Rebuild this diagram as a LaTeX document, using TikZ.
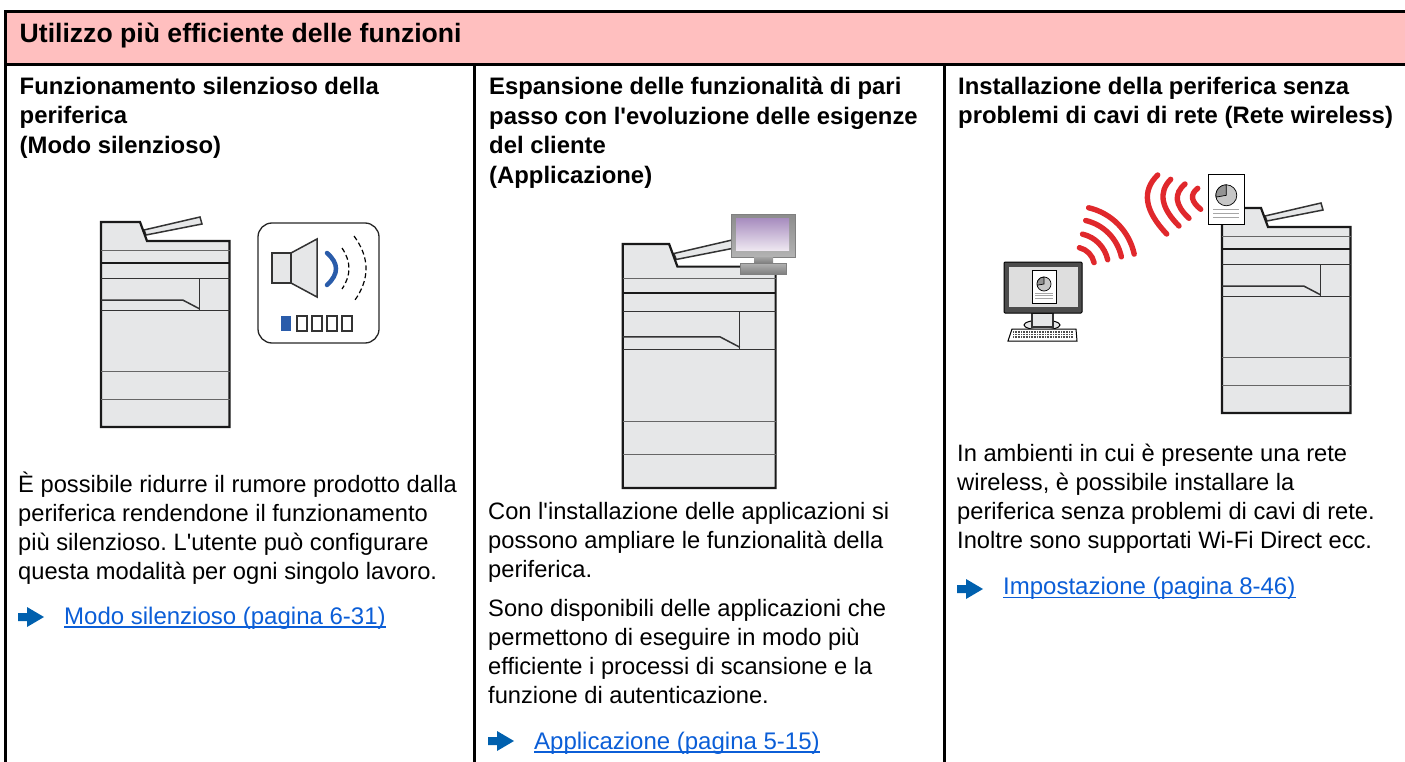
\documentclass[tikz,border=0pt]{standalone}
\usepackage{fontspec}
\setmainfont{Liberation Sans}
\definecolor{headpink}{HTML}{FFBFBF}
\definecolor{bodygray}{HTML}{E6E7E8}
\definecolor{linkblue}{HTML}{0B5ED7}
\definecolor{arrowblue}{HTML}{0060AE}
\definecolor{speakblue}{HTML}{2A5CAA}
\definecolor{wavered}{HTML}{E0282C}
\definecolor{screentop}{HTML}{A98FC0}
\definecolor{screenbot}{HTML}{EDE6F0}

% printer: left, top, scale
\newcommand{\printerbody}[3]{
\begin{scope}[shift={(#1,#2)},scale=#3]
\draw[thin line, fill=bodygray] (43,8) -- (99,-5) -- (101,2) -- (45,13) -- cycle;
\draw[thick line, fill=bodygray] (0,0) -- (39,0) -- (46,19) -- (128.5,19) -- (128.5,205) -- (0,205) -- cycle;
\draw[grey line] (0,28.7) -- (128.5,28.7);
\draw[thick line] (0,41) -- (128.5,41);
\draw[thin line] (0,56.7) -- (128.5,56.7);
\draw[thin line] (0,88.7) -- (128.5,88.7);
\draw[thin line] (98.3,56.7) -- (98.3,88.7);
\draw[thin line] (0,78) -- (81.7,78) -- (98.3,86.7);
\draw[grey line] (0,149) -- (128.5,149);
\draw[grey line] (0,177) -- (128.5,177);
\end{scope}
}
% blue arrow in front of a link: left, middle
\newcommand{\linkarrow}[2]{
\fill[arrowblue] (#1,#2-4) -- (#1+9,#2-4) -- (#1+9,#2-10) -- (#1+26,#2) -- (#1+9,#2+10) -- (#1+9,#2+4) -- (#1,#2+4) -- cycle;
}
% small page with a pie: centre of the pie, radius
\newcommand{\piechart}[3]{
\draw[line width=0.7pt, fill=gray!45] (#1,#2) circle (#3);
\draw[line width=0.7pt, fill=gray!85] (#1,#2) -- (#1,#2-#3) arc[start angle=-90,end angle=-190,radius=#3] -- cycle;
}

\begin{document}
\begin{tikzpicture}[x=1pt,y=-1pt]
\useasboundingbox (0,0) rectangle (1405,762);

% definitions
\tikzstyle{thick line} = [line width=2.2pt, draw=black!90]
\tikzstyle{thin line} = [line width=1.5pt, draw=black!80]
\tikzstyle{grey line} = [line width=1pt, draw=black!60]
\tikzstyle{frame} = [line width=3pt, draw=black]
\tikzstyle{titletext} = [anchor=base west, inner sep=0pt, font=\fontsize{26.6}{29}\selectfont\bfseries]
\tikzstyle{headtext} = [anchor=north west, inner sep=0pt, align=left, font=\frenchspacing\fontsize{23.85}{29.5}\selectfont\bfseries]
\tikzstyle{bodytext} = [anchor=north west, inner sep=0pt, align=left, font=\frenchspacing\fontsize{23.7}{29}\selectfont]
\tikzstyle{linktext} = [anchor=base west, inner sep=0pt, text=linkblue, font=\fontsize{24}{29}\selectfont]
\tikzstyle{link line} = [line width=1.4pt, draw=linkblue]
\tikzstyle{wave} = [line width=5.4pt, draw=wavered, line cap=round]

% table
\fill[headpink] (5.5,11.5) rectangle (1405,64.5);
\draw[frame] (5.5,762) -- (5.5,11.5) -- (1405,11.5);
\draw[frame] (5.5,64.5) -- (1405,64.5);
\draw[frame] (474,64.5) -- (474,762);
\draw[frame] (944,64.5) -- (944,762);

% texts
\node[titletext] (title) at (19.5,42.5) {Utilizzo più efficiente delle funzioni};

\node[headtext] (head1) at (19.5,77) {Funzionamento silenzioso della\\periferica\\(Modo silenzioso)};
\node[headtext] (head2) at (489,77) {Espansione delle funzionalità di pari\\passo con l\textquotesingle evoluzione delle esigenze\\del cliente\\(Applicazione)};
\node[headtext] (head3) at (958,77) {Installazione della periferica senza\\problemi di cavi di rete (Rete wireless)};

\node[bodytext] (body1) at (18,472) {È possibile ridurre il rumore prodotto dalla\\periferica rendendone il funzionamento\\più silenzioso. L\textquotesingle utente può configurare\\questa modalità per ogni singolo lavoro.};
\node[bodytext] (body2a) at (488,502.5) {Con l\textquotesingle installazione delle applicazioni si\\possono ampliare le funzionalità della\\periferica.};
\node[bodytext] (body2b) at (488,599.5) {Sono disponibili delle applicazioni che\\permettono di eseguire in modo più\\efficiente i processi di scansione e la\\funzione di autenticazione.};
\node[bodytext] (body3) at (957,444) {In ambienti in cui è presente una rete\\wireless, è possibile installare la\\periferica senza problemi di cavi di rete.\\Inoltre sono supportati Wi-Fi Direct ecc.};

\node[linktext] (link1) at (64,624) {Modo silenzioso (pagina 6-31)};
\node[linktext] (link2) at (534,749) {Applicazione (pagina 5-15)};
\node[linktext] (link3) at (1003,594.5) {Impostazione (pagina 8-46)};
\foreach \linkname in {link1,link2,link3}
  \draw[link line] ([yshift=-3pt]\linkname.base west) -- ([yshift=-3pt]\linkname.base east);
\linkarrow{18}{617}
\linkarrow{488}{741}
\linkarrow{957}{589}

% silent mode
\printerbody{101}{222}{1}
\draw[line width=1.3pt, draw=black!85, rounded corners=14pt] (258,223) rectangle (379,343);
\draw[thin line, fill=bodygray] (272,253) rectangle (291,283);
\draw[thin line, fill=bodygray] (291,253) -- (317,239) -- (317,297) -- (291,283) -- cycle;
\draw[line width=4.5pt, draw=speakblue, line cap=round] (327,253) .. controls (339,263.4) and (339,274) .. (327,285);
\draw[line width=1.2pt, dash pattern=on 5pt off 3pt] (342,248) .. controls (351.3,261.7) and (351.3,275.3) .. (342,289);
\draw[line width=1.2pt, dash pattern=on 5pt off 3pt] (354,236) .. controls (369.7,257.3) and (370,278.7) .. (355,300);
\fill[speakblue] (281,316) rectangle (291,331);
\foreach \squarex in {297,312,327,342}
  \draw[thin line] (\squarex,316) rectangle (\squarex+10,331);

% application
\printerbody{622.7}{244}{1.19}
\draw[line width=1pt, draw=black!50, top color=black!45, bottom color=black!30] (731,214.5) rectangle (795,257);
\fill[top color=black!35, bottom color=black!50] (754,257) rectangle (773,263);
\draw[line width=1pt, draw=black!50, top color=black!30, bottom color=black!50] (740,263) rectangle (786,274);
\shade[top color=screentop, bottom color=screenbot] (736,219) rectangle (789,250);

% wireless
\printerbody{1222}{208}{1}
\draw[line width=1.2pt, fill=white] (1208.7,174.3) rectangle (1244.3,224.3);
\piechart{1226.3}{195.3}{10.5}
\foreach \liney in {210,213.7,217.3}
  \draw[line width=1pt, draw=black!35] (1213,\liney) -- (1239,\liney);

\draw[line width=1pt, fill=bodygray] (1042,325) ellipse (18 and 5);
\draw[thin line, fill=bodygray] (1032,313) rectangle (1053,327);
\draw[line width=1pt, fill=black!70, rounded corners=1pt] (1004,262) rectangle (1082,313);
\fill[black!13] (1008.5,267) rectangle (1077.5,307);
\draw[line width=0.8pt, fill=white] (1032,270) rectangle (1056,303);
\piechart{1044}{284}{7}
\foreach \liney in {293.3,295.7,298.3}
  \draw[line width=0.7pt, draw=black!35] (1035,\liney) -- (1053,\liney);
\draw[line width=1pt, fill=white] (1012,329) -- (1076,329) -- (1077,341) -- (1008,341) -- cycle;
\foreach \keyy in {332,334.5,337}
  \draw[line width=1.6pt, draw=black!70, dash pattern=on 1pt off 0.6pt] (1013,\keyy) -- (1073,\keyy);

\foreach \wr in {19.5,33.4,47.4,60.5}
  \draw[wave] ([shift={(1075,266.7)}]-77:\wr) arc[start angle=-77, end angle=-12, radius=\wr];
\draw[wave] (1157.7,175) .. controls (1141.4,190.9) and (1144.4,210.5) .. (1166.7,234);
\draw[wave] (1170.7,179.3) .. controls (1158.1,192.2) and (1160.9,207.8) .. (1179,226);
\draw[wave] (1185,184) .. controls (1173.5,193.9) and (1174.8,204.9) .. (1189,218.3);
\draw[wave] (1197.7,188.3) .. controls (1189.6,194.6) and (1191.1,201.6) .. (1200.7,209.3);

\end{tikzpicture}
\end{document}
